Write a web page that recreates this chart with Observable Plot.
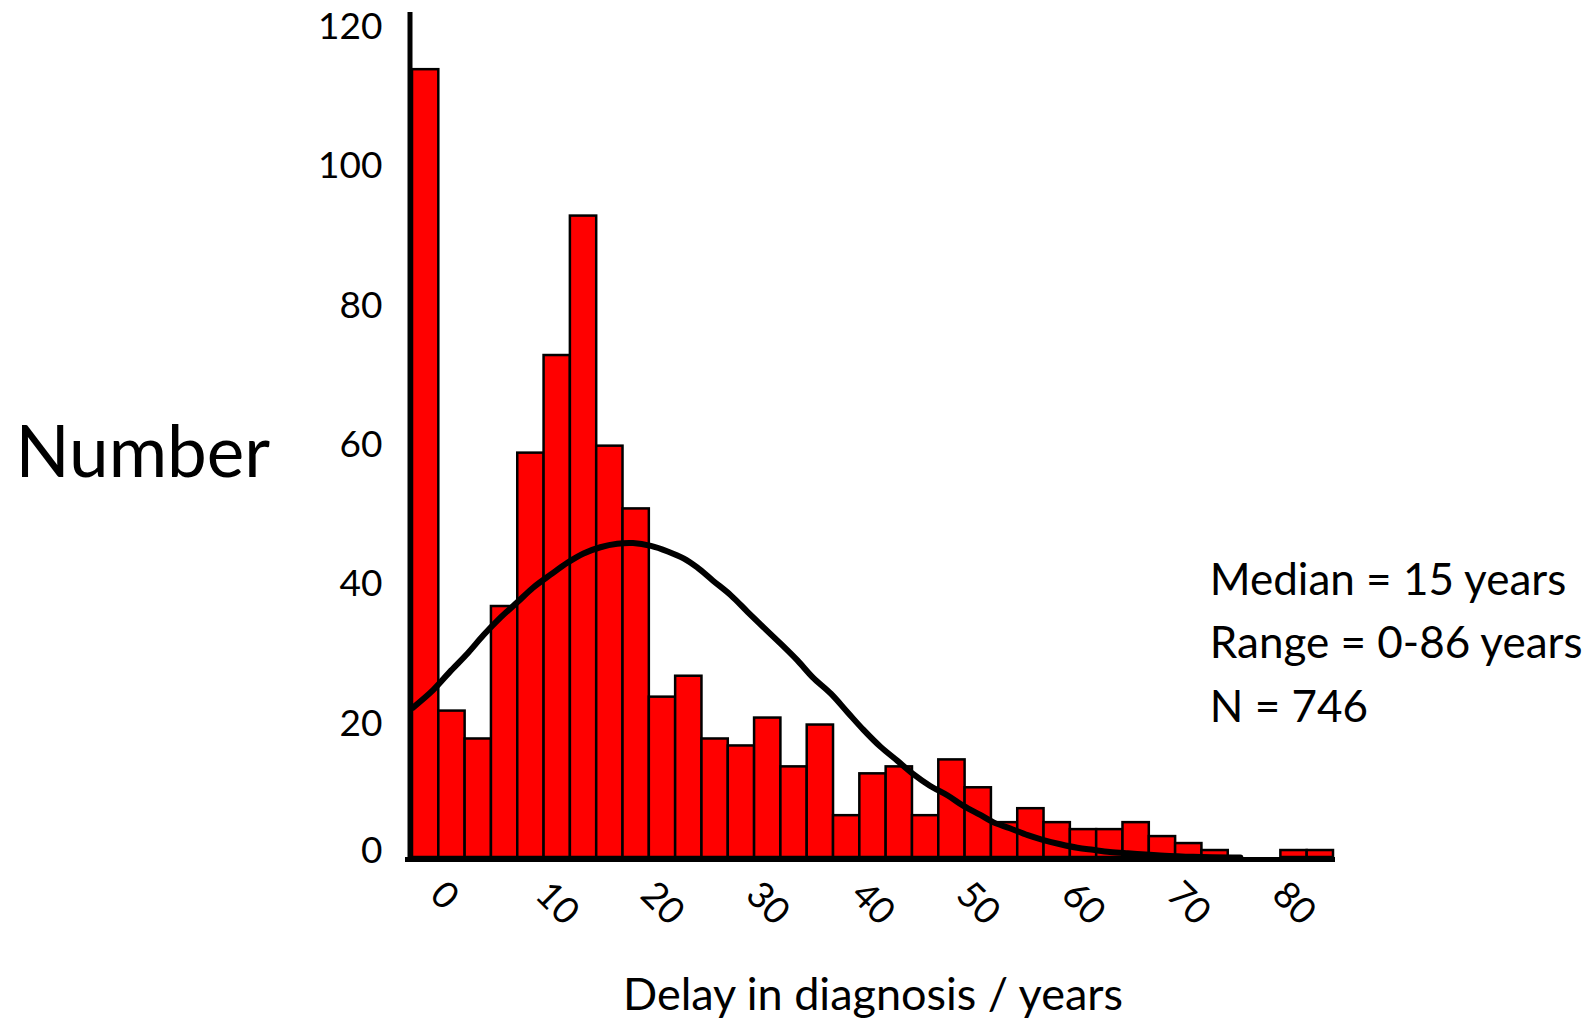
<!DOCTYPE html>
<html><head><meta charset="utf-8">
<script src="https://cdn.jsdelivr.net/npm/d3@7"></script>
<script src="https://cdn.jsdelivr.net/npm/@observablehq/plot@0.6"></script>
<style>html,body{margin:0;padding:0;background:#fff;} svg{display:block}</style>
</head><body><div id="chart"></div>
<script>
// Histogram bins (bin centres, years) and counts
const binCenters = [0, 2.5, 5, 7.5, 10, 12.5, 15, 17.5, 20, 22.5, 25, 27.5, 30, 32.5, 35, 37.5, 40, 42.5, 45, 47.5, 50, 52.5, 55, 57.5, 60, 62.5, 65, 67.5, 70, 72.5, 75, 77.5, 80, 82.5, 85];
const counts = [113, 21, 17, 36, 58, 72, 92, 59, 50, 23, 26, 17, 16, 20, 13, 19, 6, 12, 13, 6, 14, 10, 5, 7, 5, 4, 4, 5, 3, 2, 1, 0, 0, 1, 1];
const binWidth = 2.5;

// Fitted curve
const curveX = [-1.2, 0.7, 2.4, 4.0, 5.5, 7.1, 8.7, 10.2, 11.9, 13.5, 15.0, 16.6, 18.2, 19.7, 21.4, 23.0, 24.5, 25.8, 27.3, 29.0, 30.6, 32.1, 33.7, 35.3, 36.8, 38.5, 40.1, 41.6, 43.2, 44.8, 46.3, 47.9, 49.6, 51.1, 52.7, 54.0, 55.5, 57.2, 58.7, 60.3, 61.9, 63.4, 65.0, 66.7, 69.8, 72.9, 77.4];
const curveY = [21.5, 24.0, 26.8, 29.3, 31.9, 34.4, 36.6, 38.7, 40.6, 42.3, 43.6, 44.5, 45.0, 45.1, 44.7, 43.9, 42.9, 41.6, 39.7, 37.6, 35.2, 33.0, 30.7, 28.3, 25.8, 23.5, 20.8, 18.3, 15.9, 13.9, 12.0, 10.3, 8.9, 7.4, 6.1, 5.0, 4.2, 3.2, 2.5, 1.9, 1.4, 1.1, 0.8, 0.6, 0.3, 0.1, 0.0];

const yTicks = [20, 40, 60, 80, 100, 120];
const yZeroTick = [0];
const xTicks = [0, 10, 20, 30, 40, 50, 60, 70, 80];
const xDomain = [-1.25, 86.25];
const yDomain = [0, 121.2];
const yLabel = "Number";
const xLabel = "Delay in diagnosis / years";
const annotation = ["Median = 15 years", "Range = 0-86 years", "N = 746"];
const annotationPos = {x: 74.5, y: 44.2};

const bins = binCenters.map((c, i) => ({x1: c - binWidth / 2, x2: c + binWidth / 2, count: counts[i]}));
const curve = curveX.map((x, i) => ({x, y: curveY[i]}));

const chart = Plot.plot({
  width: 1591,
  height: 1021,
  marginLeft: 412,
  marginRight: 258,
  marginTop: 12,
  marginBottom: 164,
  style: {fontFamily: "Lato, 'Noto Sans', sans-serif", color: "#000", background: "#fff"},
  x: {domain: xDomain},
  y: {domain: yDomain},
  marks: [
    Plot.rectY(bins, {x1: "x1", x2: "x2", y: "count", fill: "#ff0000", stroke: "#000", strokeWidth: 2.5}),
    Plot.line(curve, {x: "x", y: "y", stroke: "#000", strokeWidth: 6, curve: "catmull-rom"}),
    Plot.ruleY([0], {stroke: "#000", strokeWidth: 5, dy: 2, insetLeft: -7, insetRight: -2}),
    Plot.ruleX([xDomain[0]], {stroke: "#000", strokeWidth: 5, dx: -2.5, insetBottom: -5}),
    Plot.axisY(yTicks, {tickSize: 0, tickPadding: 30, label: null, fontSize: 37, dy: 6}),
    Plot.axisY(yZeroTick, {tickSize: 0, tickPadding: 30, label: null, fontSize: 37, dy: -6}),
    Plot.axisX(xTicks, {tickSize: 0, tickPadding: 31, tickRotate: 45, label: null, fontSize: 37, dx: 11}),
    Plot.text([yLabel], {text: d => d, frameAnchor: "left", textAnchor: "start", dx: -397, dy: 19, fontSize: 71}),
    Plot.text([xLabel], {text: d => d, frameAnchor: "bottom", dy: 152, fontSize: 45}),
    Plot.text([annotation.join("\n")], {text: d => d, x: annotationPos.x, y: annotationPos.y, textAnchor: "start", lineAnchor: "top", lineHeight: 1.45, fontSize: 44})
  ]
});
document.getElementById("chart").appendChild(chart);
</script>
</body></html>
